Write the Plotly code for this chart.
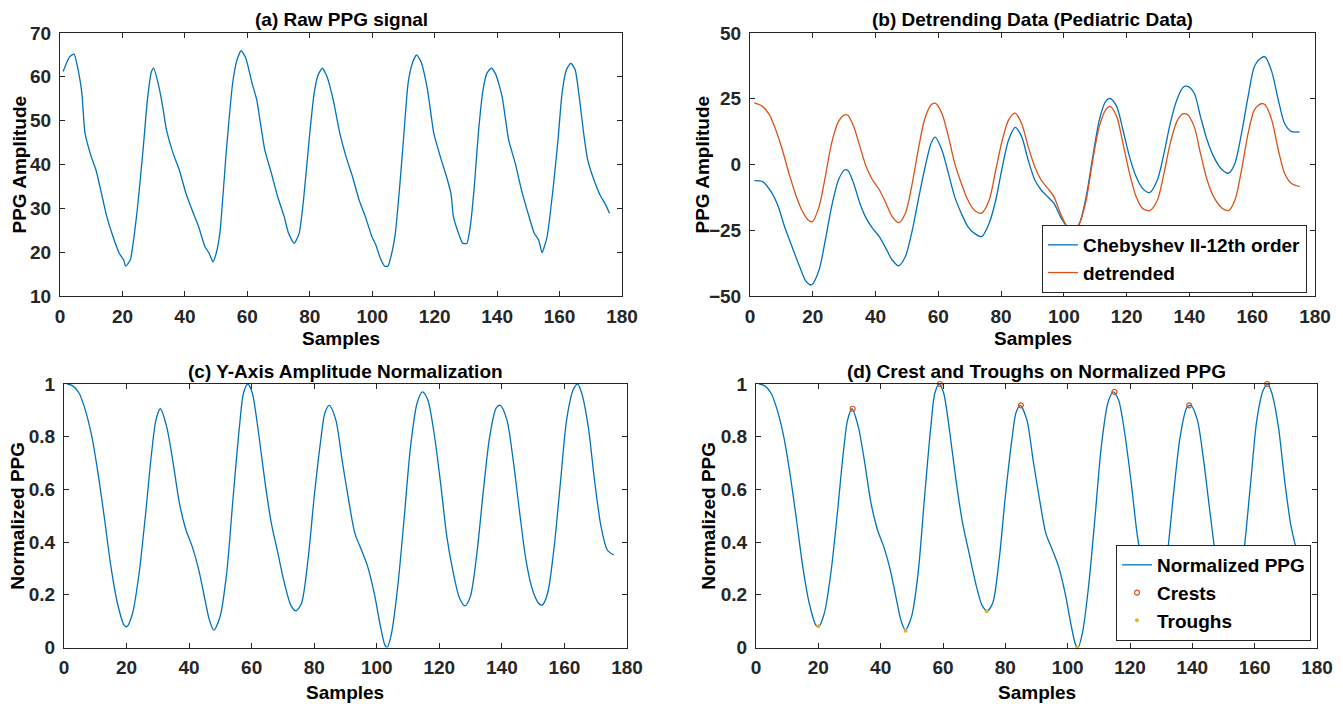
"""
PPG preprocessing figure: raw signal, detrending, normalization, crest/trough detection
"""

import plotly.graph_objects as go

# ---- data ----
raw_x = [1, 3, 4.5, 6, 7, 8, 10, 11.5, 13.5, 15,
         17, 19, 20.4, 21, 22.5, 24.5, 26.6, 28, 29.3, 30,
         31.4, 32.7, 34.1, 36.2, 38.2, 40.3, 42.3, 44.4, 46.4, 47.8,
         49, 50, 51.2, 53.3, 55.3, 56.7, 58, 59.5, 61.5, 63,
         64.2, 65.6, 67.7, 69.7, 71.8, 73.2, 75, 76.6, 78, 80,
         81.4, 82.7, 84, 85.5, 87.5, 89.6, 91.6, 93.7, 95.8, 97.8,
         99.9, 101.2, 102.6, 104, 105, 106, 107.4, 108.8, 110, 111.5,
         112.9, 114.2, 115.6, 117.7, 119.7, 121.8, 123.8, 125.2, 126, 127.3,
         129, 130.3, 131.4, 132.7, 134, 135.5, 136.8, 138.2, 139.6, 141.6,
         143.7, 145.8, 147.8, 149.9, 151.9, 153.3, 154.4, 156, 158, 159.5,
         160.8, 162.2, 163.6, 165, 166.3, 167.7, 169, 171, 173.2, 174.5,
         176]
raw_y = [61.2, 64.5, 65.2, 60.9, 56.3, 47.2, 41.8, 38.8, 32.7, 28.1,
         23.5, 19.7, 18.2, 16.8, 18.2, 28.1, 43.3, 54.8, 61.2, 62,
         58.6, 54, 47.9, 42.6, 38.8, 33.5, 29.6, 25.8, 21.3, 19.7,
         17.8, 19.7, 24.3, 43.3, 58.6, 63.9, 66, 64.3, 58.6, 54.8,
         49.4, 43.3, 38, 32.7, 28.1, 24.3, 22, 24.3, 31.9, 47.2,
         56.3, 60.5, 62, 60.1, 54.8, 47.2, 41.8, 37.2, 31.9, 28.1,
         23.5, 21.6, 18.6, 16.8, 16.8, 19, 24.3, 35, 45.6, 58.6,
         63.2, 65, 63.5, 57.1, 47.2, 41.8, 37.2, 33.5, 28.1, 25,
         22, 22, 25.8, 35, 47.2, 57.1, 60.9, 62, 60.5, 55.5,
         45.6, 40.3, 34.2, 28.9, 24.3, 22.8, 19.9, 23.5, 35, 45.6,
         56.3, 61.6, 63.1, 61.6, 55.5, 47.2, 41.1, 36.5, 32.7, 31.2,
         28.9]

cheb_x = [1.4, 4, 7, 9, 11, 13, 15.8, 17.9, 19.6,
          22, 24, 26, 28.2, 30.2, 31.2, 33, 35, 37, 39,
          41.2, 43.3, 45.3, 47.4, 49.5, 51.5, 53.6, 55.6, 57.7, 59,
          61.1, 63.2, 65.2, 67.3, 69.4, 71.4, 73.8, 76.2, 78.3, 80.4,
          82.4, 84.5, 86.5, 88.6, 90.7, 92.7, 94.8, 96.8, 98.9, 101,
          103, 105, 107.1, 109.2, 111.3, 113.3, 114.7, 116.8, 118.8, 120.9,
          123, 125, 127.3, 129.8, 131.9, 133.9, 136, 138, 139.4, 141.5,
          143.5, 145.6, 147.7, 150.4, 152.5, 154.5, 156.6, 158.7, 160.7, 162.8,
          164.1, 166.2, 168.3, 170.3, 172.4, 175.1]
cheb_y = [-6.1, -6.5, -10.9, -16, -23.6, -30, -38.8, -44.5, -45.8,
          -40.1, -28.7, -16, -5.8, -2, -2.3, -7.1, -14.7, -20.4, -24.2,
          -27.4, -31.9, -36.3, -38.5, -35, -26.1, -13.5, -2, 8.1, 10.4,
          5.6, -3.3, -12.2, -18.5, -23.6, -26.1, -27.4, -22.3, -13.5, -0.8,
          9.4, 14.1, 10.7, 1.8, -5.8, -9.6, -12.2, -14.7, -19.8, -23.6,
          -25.5, -22.3, -12.2, 3, 17, 24, 25.1, 22.1, 13.2, 3,
          -4.6, -9, -10.7, -5.8, 4.3, 15.7, 24.6, 29.4, 29.7, 27.2,
          18.3, 9.4, 3, -2, -3.3, 0.5, 11.9, 25.9, 37.3, 40.5,
          40.9, 35.4, 24.6, 15.7, 12.6, 12.4]

detr_x = [1.4, 4, 6.2, 8.2, 10.3, 12.4, 14.4, 16.5, 18.5, 19.9] + cheb_x[9:]
detr_y = [23.4, 22.1, 18.9, 13.2, 5.6, -3.3, -10.9, -17.3, -21.1, -21.7,
          -16, -4.6, 8.1, 16.4, 18.9, 18.7, 14.5, 6.9, -0.8, -5.8,
          -9.6, -14.7, -19.8, -22.1, -18.5, -8.4, 5.6, 17, 22.7, 23.3,
          19.5, 10.7, 0.5, -7.1, -13.5, -17.3, -18.5, -13.5, -2, 9.4,
          17, 19.5, 15.7, 6.9, -0.8, -5.8, -9, -12.2, -18.5, -23.6,
          -25.5, -22.3, -13.5, 1.8, 14.5, 20.8, 22.1, 18.3, 8.1, -3.3,
          -12.2, -16.6, -17.6, -13.5, -3.3, 8.1, 16.4, 19.3, 18.9, 14.5,
          4.3, -5.8, -12.2, -16.6, -17.5, -13.5, -2, 11.9, 20.8, 23.1,
          22.7, 17, 5.6, -3.3, -7.1, -8.4]

norm_x = [1, 2.7, 4.8, 6.8, 8.9, 10.9, 13, 15, 17.1, 19.2,
          20.1, 21.9, 24, 26, 28, 29.4, 30.8, 32.8, 34.9, 36.9,
          39, 41, 43.1, 45.1, 46.5, 47.9, 49.9, 52, 54, 56.1,
          57.4, 58.8, 60.2, 62.2, 64.3, 66.3, 68.4, 70.5, 72.5, 74.1,
          75.9, 78, 80, 82.1, 83.4, 84.8, 86.9, 88.9, 91, 93,
          95.1, 97.1, 99.2, 101.2, 102.6, 103.3, 104.7, 106.7, 108.8, 110.8,
          112.9, 114.6, 116.3, 118.3, 120.4, 122.4, 124.5, 126.5, 128.2, 129.9,
          132, 134.1, 136.1, 138.2, 139.5, 141.6, 143.6, 145.7, 147.7, 149.8,
          151.8, 152.9, 154.6, 156.6, 158.7, 160.7, 162.8, 164.2, 165.5, 167.6,
          169.6, 171.7, 173.7, 175.8]
norm_y = [1.0, 0.994, 0.966, 0.902, 0.80, 0.66, 0.484, 0.307, 0.167, 0.085,
          0.079, 0.129, 0.281, 0.497, 0.738, 0.864, 0.906, 0.839, 0.70, 0.548,
          0.446, 0.383, 0.294, 0.18, 0.104, 0.066, 0.117, 0.281, 0.56, 0.839,
          0.966, 1.0, 0.966, 0.814, 0.624, 0.471, 0.357, 0.243, 0.161, 0.139,
          0.167, 0.332, 0.573, 0.788, 0.89, 0.919, 0.864, 0.712, 0.56, 0.433,
          0.37, 0.307, 0.205, 0.079, 0.009, 0.0, 0.053, 0.231, 0.497, 0.763,
          0.928, 0.97, 0.94, 0.814, 0.624, 0.421, 0.281, 0.186, 0.158, 0.193,
          0.357, 0.598, 0.80, 0.909, 0.919, 0.864, 0.712, 0.51, 0.332, 0.218,
          0.167, 0.161, 0.205, 0.37, 0.624, 0.864, 0.978, 1.0, 0.966, 0.839,
          0.636, 0.459, 0.37, 0.351]

crest_x = [31, 59, 85, 115, 139, 164]
crest_y = [0.906, 1.0, 0.919, 0.97, 0.919, 1.0]
trough_x = [20, 48, 74, 103, 128, 153]
trough_y = [0.081, 0.064, 0.138, 0.0, 0.158, 0.161]

BLUE = '#0072BD'
ORANGE = '#D95319'
YELLOW = '#EDB120'
AX = '#262626'
FONT = 'Liberation Sans, Arial, Helvetica, sans-serif'
FS = 19

W, H = 1343, 704
OFF = 8  # page body margin, the plot div starts 8px in
# axes boxes in screen pixels: (left, right, top, bottom)
boxes = {
    'a': (60, 622, 33, 296),
    'b': (750, 1315, 33, 296),
    'c': (64, 627, 384, 647.5),
    'd': (756, 1317, 384, 647.5),
}


def px_x(v):
    return (v - OFF) / W


def px_y(v):
    return 1 - (v - OFF) / H


fig = go.Figure()

fig.add_trace(go.Scatter(x=raw_x, y=raw_y, mode='lines',
                         line=dict(color=BLUE, width=1.3, shape='spline', smoothing=0.5),
                         showlegend=False, xaxis='x', yaxis='y'))

fig.add_trace(go.Scatter(x=cheb_x, y=cheb_y, mode='lines', name='Chebyshev II-12th order',
                         line=dict(color=BLUE, width=1.3, shape='spline', smoothing=0.8),
                         xaxis='x2', yaxis='y2', legend='legend'))
fig.add_trace(go.Scatter(x=detr_x, y=detr_y, mode='lines', name='detrended',
                         line=dict(color=ORANGE, width=1.3, shape='spline', smoothing=0.8),
                         xaxis='x2', yaxis='y2', legend='legend'))

fig.add_trace(go.Scatter(x=norm_x, y=norm_y, mode='lines',
                         line=dict(color=BLUE, width=1.3, shape='spline', smoothing=0.8),
                         showlegend=False, xaxis='x3', yaxis='y3'))

fig.add_trace(go.Scatter(x=norm_x, y=norm_y, mode='lines', name='Normalized PPG',
                         line=dict(color=BLUE, width=1.3, shape='spline', smoothing=0.8),
                         xaxis='x4', yaxis='y4', legend='legend2'))
fig.add_trace(go.Scatter(x=crest_x, y=crest_y, mode='markers', name='Crests',
                         marker=dict(symbol='circle-open', size=5, color=ORANGE, line=dict(width=1.2)),
                         cliponaxis=False, xaxis='x4', yaxis='y4', legend='legend2'))
fig.add_trace(go.Scatter(x=trough_x, y=trough_y, mode='markers', name='Troughs',
                         marker=dict(symbol='circle', size=4, color=YELLOW),
                         cliponaxis=False, xaxis='x4', yaxis='y4', legend='legend2'))

tickfont = dict(family=FONT, size=FS, color=AX, weight='bold')


def axis_common():
    return dict(showgrid=False, zeroline=False, showline=True, linecolor=AX, linewidth=1,
                mirror='ticks', ticks='inside', ticklen=5, tickwidth=1, tickcolor=AX,
                tickfont=tickfont, automargin=False)


y_ranges = {'a': ([10, 70], 10), 'b': ([-50, 50], 25), 'c': ([0, 1], 0.2), 'd': ([0, 1], 0.2)}
layout_axes = {}
for i, key in enumerate(['a', 'b', 'c', 'd'], start=1):
    l, r, t, b = boxes[key]
    sx = '' if i == 1 else str(i)
    xa = axis_common()
    xa.update(domain=[px_x(l), px_x(r)], range=[0, 180], dtick=20, tick0=0,
              anchor='y' + sx, ticklabelstandoff=3)
    ya = axis_common()
    rng, dt = y_ranges[key]
    ya.update(domain=[px_y(b), px_y(t)], range=rng, dtick=dt, tick0=rng[0],
              anchor='x' + sx, ticklabelstandoff=4)
    layout_axes['xaxis' + sx] = xa
    layout_axes['yaxis' + sx] = ya

titles = {
    'a': '(a) Raw PPG signal',
    'b': '(b) Detrending Data (Pediatric Data)',
    'c': '(c) Y-Axis Amplitude Normalization',
    'd': '(d) Crest and Troughs on Normalized PPG',
}
ylabels = {'a': 'PPG Amplitude', 'b': 'PPG Amplitude', 'c': 'Normalized PPG', 'd': 'Normalized PPG'}
ylabel_x = {'a': 19, 'b': 702, 'c': 18, 'd': 709}
title_y = {'a': 19, 'b': 19, 'c': 371, 'd': 371}
xlabel_y = {'a': 338, 'b': 338, 'c': 692, 'd': 692}

annotations = []
textfont = dict(family=FONT, size=FS, color='#000000', weight='bold')
for key in ['a', 'b', 'c', 'd']:
    l, r, t, b = boxes[key]
    cx = (l + r) / 2
    annotations.append(dict(text=titles[key], x=px_x(cx), y=px_y(title_y[key]), xref='paper', yref='paper',
                            showarrow=False, xanchor='center', yanchor='middle', font=textfont))
    annotations.append(dict(text='Samples', x=px_x(cx), y=px_y(xlabel_y[key]), xref='paper', yref='paper',
                            showarrow=False, xanchor='center', yanchor='middle', font=textfont))
    annotations.append(dict(text=ylabels[key], x=px_x(ylabel_x[key]), y=px_y((t + b) / 2), xref='paper',
                            yref='paper', showarrow=False, xanchor='center', yanchor='middle',
                            textangle=-90, font=textfont))

legend_style = dict(bgcolor='white', bordercolor=AX, borderwidth=1,
                    font=dict(family=FONT, size=FS, color='#000000', weight='bold'),
                    xanchor='left', yanchor='bottom', tracegroupgap=0)

fig.update_layout(
    width=W, height=H,
    margin=dict(l=0, r=0, t=0, b=0, pad=0, autoexpand=False),
    paper_bgcolor='white', plot_bgcolor='white',
    annotations=annotations,
    legend=dict(x=px_x(1042), y=px_y(293), **legend_style),
    legend2=dict(x=px_x(1116), y=px_y(641), **legend_style),
    **layout_axes
)

fig.write_html("out.html")
